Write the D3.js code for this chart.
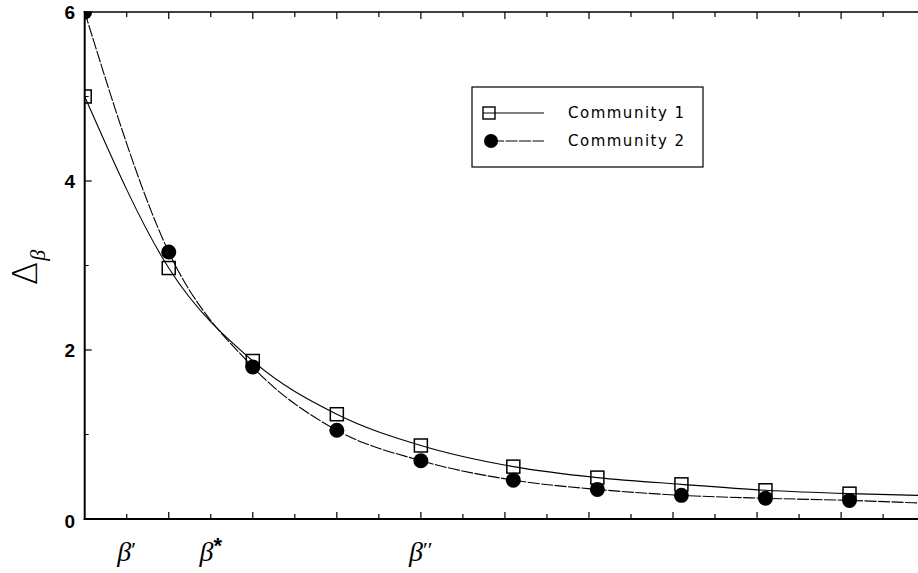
<!DOCTYPE html>
<html><head><meta charset="utf-8">
<script src="https://cdn.jsdelivr.net/npm/d3@7"></script>
<style>body{margin:0;background:#fff}svg{display:block}</style>
</head><body>
<svg id="chart" width="918" height="573"></svg>
<script>
// ---- data ----
const xPositions = [0, 2, 4, 6, 8, 10.2, 12.2, 14.2, 16.2, 18.2];
const community1 = [5.0, 2.97, 1.87, 1.24, 0.87, 0.62, 0.49, 0.41, 0.34, 0.30];
const community2 = [6.0, 3.16, 1.80, 1.05, 0.69, 0.46, 0.35, 0.28, 0.245, 0.22];
const curveEndX = 19.83;
const community1End = 0.28;
const community2End = 0.19;
const yTickValues = [0, 2, 4, 6];
const yMinorTicks = [1, 3, 5];
const xTickValues = d3.range(1, 20);
const xLabels = [{x: 1, main: "β", sup: "′"}, {x: 3, main: "β", sup: "*"}, {x: 8, main: "β", sup: "′′"}];
const seriesNames = ["Community 1", "Community 2"];

const svg = d3.select("#chart");
const pLeft = 84.7, pRight = 918, pTop = 12, pBottom = 519;
const x = d3.scaleLinear().domain([0, 19.83]).range([pLeft, pRight]);
const y = d3.scaleLinear().domain([0, 6]).range([pBottom, pTop]);

svg.append("defs").append("clipPath").attr("id", "plot")
  .append("rect").attr("x", pLeft).attr("y", pTop).attr("width", pRight - pLeft).attr("height", pBottom - pTop);

// axes
const axisG = svg.append("g");
axisG.append("line").attr("x1", pLeft).attr("x2", pLeft).attr("y1", pTop - 1).attr("y2", pBottom + 1)
  .attr("stroke", "#000").attr("stroke-width", 2);
axisG.append("line").attr("x1", pLeft - 1).attr("x2", pRight).attr("y1", pBottom).attr("y2", pBottom)
  .attr("stroke", "#000").attr("stroke-width", 2);
axisG.append("line").attr("x1", pLeft - 1).attr("x2", pRight).attr("y1", pTop).attr("y2", pTop)
  .attr("stroke", "#000").attr("stroke-width", 1.6);

// x ticks (bottom inward and top inward)
xTickValues.forEach(v => {
  const len = v % 2 === 0 ? 7 : 5;
  axisG.append("line").attr("x1", x(v)).attr("x2", x(v)).attr("y1", pBottom).attr("y2", pBottom - len)
    .attr("stroke", "#000").attr("stroke-width", 1.2);
  axisG.append("line").attr("x1", x(v)).attr("x2", x(v)).attr("y1", pTop).attr("y2", pTop + len)
    .attr("stroke", "#000").attr("stroke-width", 1.2);
});
// y ticks
yTickValues.forEach(v => {
  axisG.append("line").attr("x1", pLeft).attr("x2", pLeft + 7).attr("y1", y(v)).attr("y2", y(v))
    .attr("stroke", "#000").attr("stroke-width", 1.2);
  axisG.append("text").attr("x", 75).attr("y", y(v) + (v === 0 ? 4 : 2)).attr("text-anchor", "end")
    .attr("dominant-baseline", "middle")
    .attr("font-family", "Liberation Sans, Arial, sans-serif").attr("font-size", 19).attr("font-weight", "bold")
    .text(v);
});
yMinorTicks.forEach(v => {
  axisG.append("line").attr("x1", pLeft).attr("x2", pLeft + 4).attr("y1", y(v)).attr("y2", y(v))
    .attr("stroke", "#000").attr("stroke-width", 1);
});

// y label (rotated)
const yl = svg.append("text").attr("transform", "translate(37,285) rotate(-90)")
  .attr("text-anchor", "start").attr("font-family", "DejaVu Sans, sans-serif").attr("font-size", 34)
  .attr("font-weight", "200");
yl.append("tspan").text("Δ");
yl.append("tspan").attr("dx", 1).attr("dy", 8).attr("font-size", 22).attr("font-style", "italic")
  .attr("font-family", "Liberation Serif, serif").attr("font-weight", "normal").text("β");

// x labels
xLabels.forEach(l => {
  const t = svg.append("text").attr("x", x(l.x)).attr("y", 561).attr("text-anchor", "middle")
    .attr("font-family", "Liberation Serif, serif").attr("font-size", 28).attr("font-style", "italic");
  t.append("tspan").text(l.main);
  t.append("tspan").attr("dy", l.sup === "*" ? -8 : -4).attr("font-size", 22)
    .attr("font-style", "normal").attr("font-family", l.sup === "*" ? "Liberation Sans, sans-serif" : "Liberation Serif, serif")
    .attr("font-weight", l.sup === "*" ? "bold" : "normal").text(l.sup);
});

// curves
const plot = svg.append("g").attr("clip-path", "url(#plot)");
const line = d3.line().x(d => x(d[0])).y(d => y(d[1])).curve(d3.curveMonotoneX);
const pts1 = xPositions.map((v, i) => [v, community1[i]]).concat([[curveEndX, community1End]]);
const pts2 = xPositions.map((v, i) => [v, community2[i]]).concat([[curveEndX, community2End]]);
plot.append("path").attr("d", line(pts1)).attr("fill", "none").attr("stroke", "#000").attr("stroke-width", 1.1);
plot.append("path").attr("d", line(pts2)).attr("fill", "none").attr("stroke", "#000").attr("stroke-width", 1.1)
  .attr("stroke-dasharray", "12,1.5");

// markers
const sq = 13;
plot.selectAll("rect.c1").data(xPositions).join("rect").attr("class", "c1")
  .attr("x", (d) => x(d) - sq / 2).attr("y", (d, i) => y(community1[i]) - sq / 2)
  .attr("width", sq).attr("height", sq).attr("fill", "none").attr("stroke", "#000").attr("stroke-width", 1.5);
plot.selectAll("circle.c2").data(xPositions).join("circle").attr("class", "c2")
  .attr("cx", d => x(d)).attr("cy", (d, i) => y(community2[i])).attr("r", 7.5).attr("fill", "#000");

// legend
const lg = svg.append("g");
lg.append("rect").attr("x", 472).attr("y", 87).attr("width", 231).attr("height", 80)
  .attr("fill", "#fff").attr("stroke", "#000").attr("stroke-width", 1.2);
lg.append("line").attr("x1", 483).attr("x2", 544).attr("y1", 113).attr("y2", 113).attr("stroke", "#000").attr("stroke-width", 1.1);
lg.append("rect").attr("x", 483).attr("y", 107).attr("width", 12).attr("height", 12)
  .attr("fill", "none").attr("stroke", "#000").attr("stroke-width", 1.4);
lg.append("line").attr("x1", 492).attr("x2", 544).attr("y1", 141).attr("y2", 141).attr("stroke", "#000")
  .attr("stroke-width", 1.1).attr("stroke-dasharray", "12,1.5");
lg.append("circle").attr("cx", 491).attr("cy", 141).attr("r", 7).attr("fill", "#000");
seriesNames.forEach((n, i) => {
  lg.append("text").attr("x", 568).attr("y", 113 + i * 28).attr("dominant-baseline", "middle")
    .attr("font-family", "DejaVu Sans, sans-serif").attr("font-size", 15).attr("letter-spacing", 1.5).text(n);
});
</script>
</body></html>
